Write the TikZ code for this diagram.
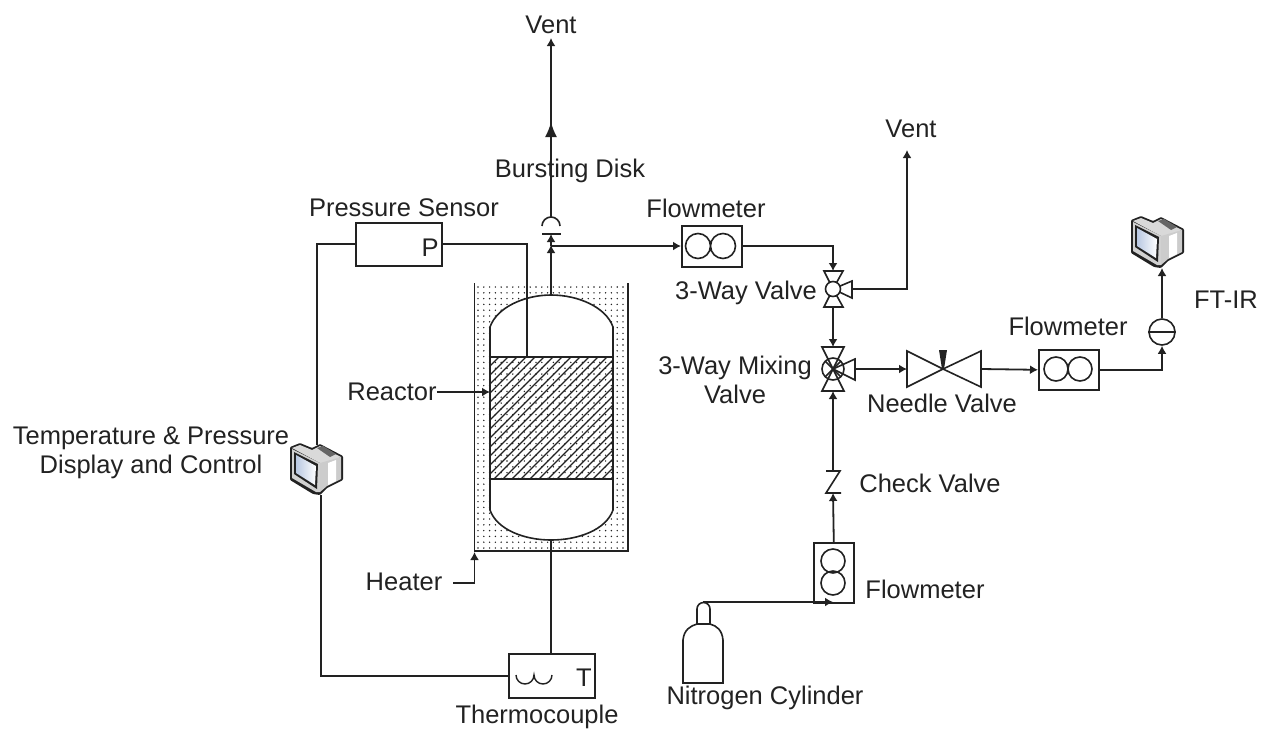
\documentclass[tikz,border=0pt]{standalone}
\usepackage{fontspec}
\setmainfont{Liberation Sans}
\usetikzlibrary{arrows.meta,calc}
\definecolor{ink}{HTML}{222222}
\definecolor{scr}{HTML}{B9C8E2}
\tikzset{
  pipe/.style={draw=ink,line width=1.8pt,line join=miter},
  flow/.style={pipe,-{Latex[length=8pt,width=9pt]}},
  bigflow/.style={pipe,-{Latex[length=15pt,width=12pt]}},
  symb/.style={draw=ink,line width=1.6pt,line join=miter},
  lab/.style={text=ink,font=\fontsize{25.5}{29.5}\selectfont,inner sep=0pt,align=center},
  boxn/.style={draw=ink,line width=1.6pt,fill=white,inner sep=0pt,anchor=north west},
  mon/.pic={
    \fill[ink,rounded corners=1pt] (0,4)--(10,0)--(22,5)--(30,1)--(53,13)--(53,37)--(37,45)--(30,52)--(23,51)--(0,37)--cycle;
    \fill[white!85!black] (2,5)--(10,2)--(22,7)--(30,3)--(51,14)--(36,21)--(30,20)--cycle;
    \fill[white!80!black] (30,20)--(51,14)--(51,36)--(37,43)--(30,49)--cycle;
    \fill[white] (38,20)--(46,17)--(46,38)--(38,42)--cycle;
    \fill[white!40!black] (27,5)--(33,3)--(46,11)--(40,14)--cycle;
    \fill[white!82!black] (2,6)--(30,20)--(30,49)--(26,49)--(2,35)--cycle;
    \fill[ink] (4,9)--(28,21)--(27,46)--(4,31)--cycle;
    \shade[left color=scr,right color=white] (6,12)--(26,23)--(25,42)--(6,30)--cycle;
  }
}
\begin{document}
\begin{tikzpicture}[x=1pt,y=-1pt]
\useasboundingbox (0,0) rectangle (1261,729);
% jacket dots
\begin{scope}
 \clip (475,284) rectangle (628,550);
 \foreach \i in {0,...,26}{\foreach \j in {0,...,45}{
   \fill[ink] ({478+5.8*\i},{287+5.8*\j}) circle (.8pt);
 }}
\end{scope}
% vessel
\coordinate (vtop) at (551,295);
\coordinate (vbot) at (551,540);
\path[symb,fill=white] (490,357) -- (490,327) .. controls (497,307) and (525,295) .. (vtop) .. controls (578,295) and (606,307) .. (613,327) -- (613,357) -- cycle;
\path[symb,fill=white] (490,479) -- (490,510) .. controls (497,530) and (525,540) .. (vbot) .. controls (578,540) and (606,530) .. (613,510) -- (613,479) -- cycle;
\begin{scope}
 \clip (490,357) rectangle (613,479);
 \foreach \k in {0,...,28}{
   \draw[ink,line width=1.2pt] ({490-122+9*\k},479) -- ++(122,-122);
 }
\end{scope}
\draw[symb] (490,357) rectangle (613,479);
% jacket walls
\draw[symb] (474.5,283) -- (474.5,551) -- (628,551) -- (628,283);
\coordinate (jbl) at (474.5,552);
\coordinate (rleft) at (490,392);
\coordinate (hatchtop) at (527,357);
% bursting disk
\coordinate (disk) at (551,217);
\draw[symb] (542,226) arc (180:360:9);
\draw[symb] (542,234) -- (561,234);
\coordinate (diskbar) at (551,234);
\coordinate (tee) at (551,246);
\coordinate (ventA) at (551,38);
\draw[flow] (disk) -- (ventA);
\draw[bigflow] (disk) -- (551,122);
\draw[flow] (vtop) -- (551,245);
\draw[flow] (tee) -- (diskbar);
% pressure sensor
\node[boxn,minimum width=86pt,minimum height=43pt] (ps) at (355,222) {};
\node[lab,anchor=center] at (430,248) {P};
\draw[pipe] (ps.east) -| (hatchtop);
% monitor left
\path (290,443) pic {mon};
\coordinate (mlt) at (317,445);
\coordinate (mlb) at (321,495);
\draw[pipe] (ps.west) -| (mlt);
% thermocouple
\node[boxn,minimum width=86pt,minimum height=44pt] (tc) at (508,653) {};
\node[lab,anchor=center] at (584,678) {T};
\draw[symb,line width=1.4pt] (516,675) arc (180:0:9) arc (180:0:9);
\draw[pipe] (vbot) -- (vbot |- tc.north);
\draw[pipe] (tc.west) -| (mlb);
% flowmeter 1
\node[boxn,minimum width=60pt,minimum height=41pt] (fa) at (681,225) {};
\draw[symb] (698,246) circle (12.5) (723,246) circle (12.5);
\draw[flow] (tee) -- (tee -| fa.west);
% 3-way valve
\coordinate (va) at (833,289);
\draw[symb] (va) -- (824,271) -- (843,271) -- cycle;
\draw[symb] (va) -- (824,307) -- (843,307) -- cycle;
\draw[symb] (va) -- (852,281) -- (852,298) -- cycle;
\draw[symb,fill=white] (va) circle (7.5);
\coordinate (vatop) at (833,271);
\coordinate (vabot) at (833,307);
\coordinate (varight) at (852,289);
\draw[flow] (fa.east) -| (vatop);
\coordinate (ventB) at (907,150);
\draw[flow] (varight) -| (ventB);
% mixing valve
\coordinate (vb) at (833,369);
\draw[symb] (vb) -- (822,347) -- (844,347) -- cycle;
\draw[symb] (vb) -- (822,391) -- (844,391) -- cycle;
\draw[symb] (vb) -- (855,359) -- (855,380) -- cycle;
\draw[symb] (vb) circle (11);
\draw[symb] ($(vb)+(-8,-8)$) -- ($(vb)+(8,8)$) ($(vb)+(-8,8)$) -- ($(vb)+(8,-8)$);
\coordinate (vbtop) at (833,347);
\coordinate (vbbot) at (833,391);
\coordinate (vbright) at (855,369);
\draw[flow] (vabot) -- (vbtop);
% needle valve
\coordinate (nv) at (943,369);
\draw[symb] (nv) -- (907,351) -- (907,387) -- cycle;
\draw[symb] (nv) -- (981,351) -- (981,387) -- cycle;
\fill[ink] (939,350) -- (947,350) -- (944,369) -- (942,369) -- cycle;
\coordinate (nvl) at (907,369);
\coordinate (nvr) at (981,369);
\draw[flow] (vbright) -- (nvl);
% flowmeter 3
\node[boxn,minimum width=60pt,minimum height=40pt] (fc) at (1038,349) {};
\draw[symb] (1056,369) circle (12) (1080,369) circle (12);
\draw[flow] (nvr) -- (fc.west);
% FT-IR
\node[draw=ink,line width=1.6pt,circle,minimum size=26pt,inner sep=0pt] (ir) at (1162,332) {};
\draw[symb] (ir.west) -- (ir.east);
\draw[flow] (fc.east) -| (ir.south);
\path (1131,216) pic {mon};
\coordinate (mrb) at (1162,268);
\draw[flow] (ir.north) -- (mrb);
% check valve
\coordinate (cktop) at (833,471);
\coordinate (ckbot) at (833,493);
\draw[symb] (826,471) -- (840,471) -- (826,493) -- (841,493);
% flowmeter 2
\node[boxn,minimum width=40pt,minimum height=60pt] (fb) at (813,542) {};
\draw[symb] (833,561) circle (12) (833,583) circle (12);
\draw[flow] (fb.north) -- (ckbot);
\draw[flow] (cktop) -- (vbbot);
% cylinder
\coordinate (cyl) at (703,602);
\draw[symb] (697,624) -- (697,609) arc (180:360:6.5) -- (710,624);
\draw[symb] (683,683) -- (683,640) .. controls (684,630) and (690,626) .. (697,624) -- (710,624) .. controls (717,626) and (722,630) .. (723,640) -- (723,683) -- cycle;
\coordinate (fbin) at (833,602);
\draw[flow] (cyl) -- (fbin);
% reactor & heater arrows
\node[lab] (lrea) at (392,392) {Reactor};
\draw[flow] (lrea.east) -- (rleft);
\node[lab] (lhea) at (404,582) {Heater};
\coordinate (hstart) at ($(lhea.east)+(11,1)$);
\draw[flow] (hstart) -| (jbl);
% labels
\node[lab] at (551,25) {Vent};
\node[lab] at (911,129) {Vent};
\node[lab] at (570,171) {Bursting Disk};
\node[lab] at (404,208) {Pressure Sensor};
\node[lab] at (706,208) {Flowmeter};
\node[lab] at (1068,326) {Flowmeter};
\node[lab] at (925,589) {Flowmeter};
\node[lab] at (1226,300) {FT-IR};
\node[lab] at (746,293) {3-Way Valve};
\node[lab] at (735,380) {3-Way Mixing\\Valve};
\node[lab] at (942,403) {Needle Valve};
\node[lab] at (930,483) {Check Valve};
\node[lab] at (765,698) {Nitrogen Cylinder};
\node[lab] at (537,717) {Thermocouple};
\node[lab] at (151,453) {Temperature \& Pressure\\Display and Control};
\end{tikzpicture}
\end{document}
